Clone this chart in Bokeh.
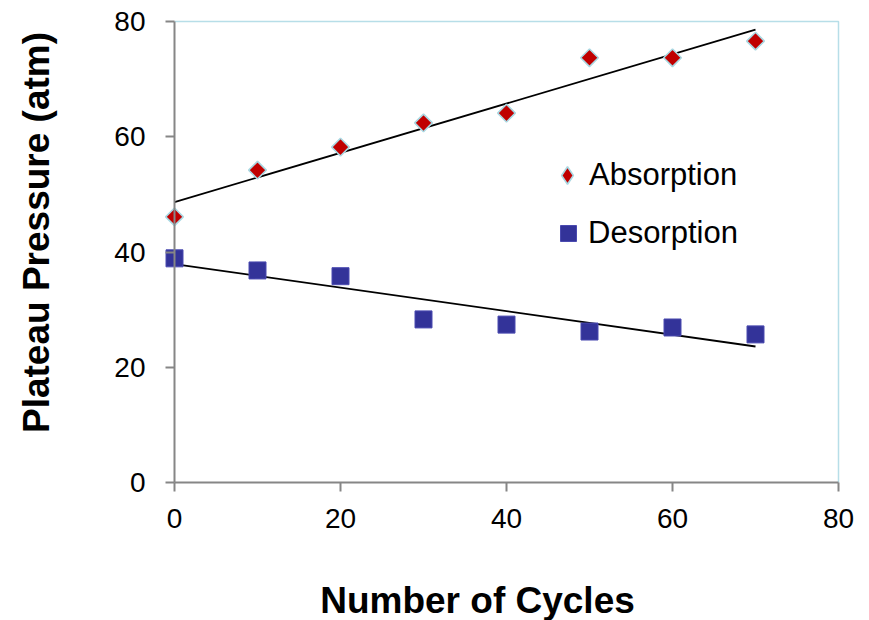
import numpy as np
from bokeh.plotting import figure
from bokeh.models import Range1d, FixedTicker, Legend, LegendItem, Label
from bokeh.embed import file_html
from bokeh.resources import INLINE

# ---- data ----
cycles = [0, 10, 20, 30, 40, 50, 60, 70]
absorption = [46.1, 54.2, 58.2, 62.4, 64.1, 73.7, 73.7, 76.6]
desorption = [38.9, 36.8, 35.8, 28.3, 27.4, 26.2, 26.9, 25.7]
ticks = [0, 20, 40, 60, 80]
x_title = "Number of Cycles"
y_title = "Plateau Pressure (atm)"

FONT = "Liberation Sans"
RED = "#C00000"
BLUE = "#333399"
EDGE = "#A9D8E2"

# canvas layout (pixels): plot area x 174..838, y 21..482 on a 869x620 canvas
W, H = 869, 620
PL, PR, PT, PB = 174, 838, 21, 482
xs = (PR - PL) / (ticks[-1] - ticks[0])      # px per x unit
ys = (PB - PT) / (ticks[-1] - ticks[0])      # px per y unit

p = figure(width=W, height=H, output_backend="svg", toolbar_location=None,
           x_range=Range1d(ticks[0] - PL / xs, ticks[-1] + (W - PR) / xs),
           y_range=Range1d(ticks[0] - (H - PB) / ys, ticks[-1] + PT / ys),
           min_border_left=0, min_border_right=0, min_border_top=0, min_border_bottom=0)
p.xgrid.visible = False
p.ygrid.visible = False
p.outline_line_color = None
p.background_fill_color = "white"
p.border_fill_color = "white"

for ax in (p.xaxis[0], p.yaxis[0]):
    ax.ticker = FixedTicker(ticks=ticks)
    ax.bounds = (ticks[0], ticks[-1])
    ax.fixed_location = 0
    ax.minor_tick_line_color = None
    ax.axis_line_color = "#868686"
    ax.axis_line_width = 2
    ax.major_tick_line_color = "#868686"
    ax.major_tick_line_width = 2
    ax.major_tick_out = 9
    ax.major_tick_in = 0
    ax.major_label_text_font = FONT
    ax.major_label_text_font_size = "28px"
    ax.major_label_text_color = "black"
p.xaxis.major_label_standoff = 17
p.yaxis.major_label_standoff = 20

# light-blue plot-area border on top and right
p.line([ticks[0], ticks[-1], ticks[-1]], [ticks[-1], ticks[-1], ticks[0]],
       line_color="#B7DEE8", line_width=1.5)

# trend lines (least-squares fits of the data)
xa = np.array(cycles, dtype=float)
ka, ba = np.polyfit(xa, absorption, 1)
kd, bd = np.polyfit(xa, desorption, 1)
xfit = [cycles[0], cycles[-1]]
p.line(xfit, [ka * x + ba for x in xfit], line_color="black", line_width=1.8)
p.line(xfit, [kd * x + bd for x in xfit], line_color="black", line_width=1.8)

ra = p.scatter(cycles, absorption, marker="square", angle=np.pi / 4, size=12.5,
               fill_color=RED, line_color=EDGE, line_width=1.6)
rd = p.scatter(cycles, desorption, marker="square", size=17,
               fill_color=BLUE, line_color="#4A4AB0", line_width=1)

# legend swatch proxy (legend draws markers unrotated, so use a diamond)
la = p.scatter(cycles, absorption, marker="diamond", fill_color=RED, line_color=EDGE,
               line_width=1.6, visible=False)

leg1 = Legend(items=[LegendItem(label="Absorption", renderers=[la])],
              location=(545, H - 197), border_line_color=None, background_fill_alpha=0,
              inactive_fill_alpha=0,
              label_text_font=FONT, label_text_font_size="31px", label_text_color="black",
              glyph_width=44, glyph_height=44, label_standoff=0, padding=0, margin=0)
leg2 = Legend(items=[LegendItem(label="Desorption", renderers=[rd])],
              location=(548, H - 253), border_line_color=None, background_fill_alpha=0,
              label_text_font=FONT, label_text_font_size="31px", label_text_color="black",
              glyph_width=40, glyph_height=40, label_standoff=0, padding=0, margin=0)
p.add_layout(leg1)
p.add_layout(leg2)

# axis titles (placed like the original, off-centre from the plot area)
p.add_layout(Label(x=ticks[0] + (477 - PL) / xs, y=ticks[0] - (600 - PB) / ys, text=x_title,
                   text_font=FONT, text_font_size="37px", text_font_style="bold",
                   text_align="center", text_baseline="middle", text_color="black"))
p.add_layout(Label(x=ticks[0] - (PL - 36) / xs, y=ticks[0] + (PB - 232) / ys, text=y_title,
                   angle=np.pi / 2, text_font=FONT, text_font_size="37px",
                   text_font_style="bold", text_align="center", text_baseline="middle",
                   text_color="black"))

open("out.html", "w").write(file_html(p, INLINE))
